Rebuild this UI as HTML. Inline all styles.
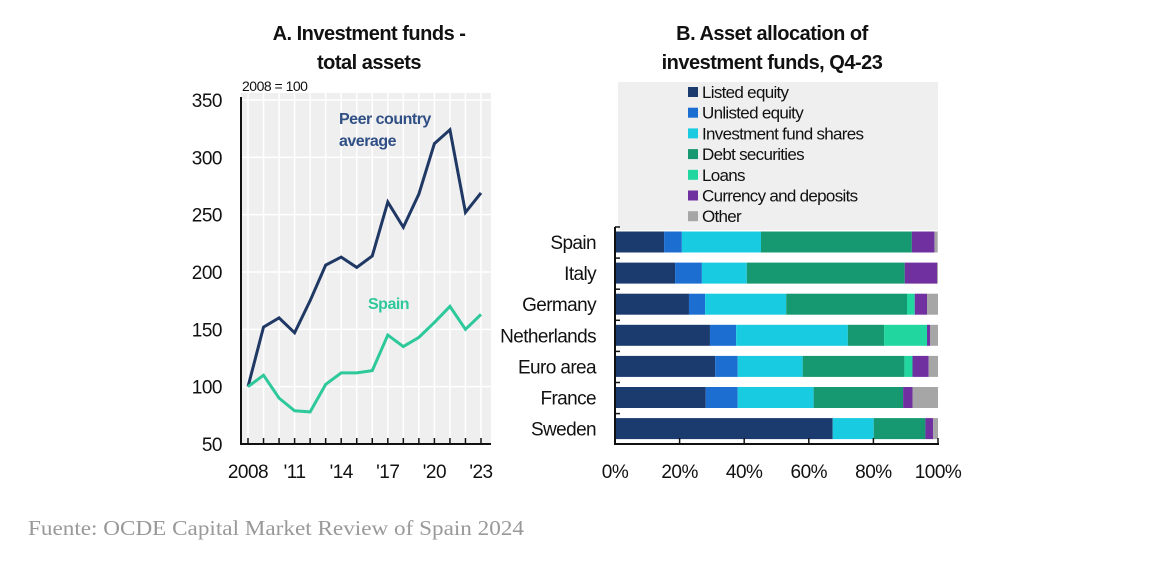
<!DOCTYPE html>
<html><head><meta charset="utf-8"><style>
body{margin:0;background:#fff;width:1163px;height:564px;overflow:hidden}
svg{display:block;font-family:"Liberation Sans",Arial,sans-serif}
</style></head><body>
<svg id="c" width="1163" height="564">
<text x="369" y="40" font-size="20" font-weight="bold" text-anchor="middle" fill="#111" letter-spacing="-0.5">A. Investment funds -</text>
<text x="369" y="69" font-size="20" font-weight="bold" text-anchor="middle" fill="#111" letter-spacing="-0.5">total assets</text>
<text x="772" y="40" font-size="20" font-weight="bold" text-anchor="middle" fill="#111" letter-spacing="-0.5">B. Asset allocation of</text>
<text x="772" y="69" font-size="20" font-weight="bold" text-anchor="middle" fill="#111" letter-spacing="-0.5">investment funds, Q4-23</text>
<text x="242" y="91" font-size="14" fill="#111" letter-spacing="-0.5">2008 = 100</text>
<g id="a"></g><g id="b"></g>
<text x="28" y="535" font-family="Liberation Serif,serif" font-size="21" fill="#999" textLength="496" lengthAdjust="spacingAndGlyphs">Fuente: OCDE Capital Market Review of Spain 2024</text>
</svg>
<script>
const years=[2008,2009,2010,2011,2012,2013,2014,2015,2016,2017,2018,2019,2020,2021,2022,2023];
const peer=[100,152,160,147,175,206,213,204,214,261,239,268,312,324,252,269];
const spain=[100,110,90,79,78,102,112,112,114,145,135,143,156,170,150,163];
const yTicks=[50,100,150,200,250,300,350];
const xLabels=[[2008,"2008"],[2011,"'11"],[2014,"'14"],[2017,"'17"],[2020,"'20"],[2023,"'23"]];
const countries=["Spain","Italy","Germany","Netherlands","Euro area","France","Sweden"];
const catNames=["Listed equity","Unlisted equity","Investment fund shares","Debt securities","Loans","Currency and deposits","Other"];
const catColors=["#1b3b6f","#1c6fd0","#19cbe0","#169870","#22d6a0","#7030a0","#a6a6a6"];
const listedEq=[15.2,18.6,22.9,29.4,31,28.1,67.4];
const unlistedEq=[5.5,8.3,5,8.1,7,9.9,0];
const fundShares=[24.5,13.9,25.1,34.6,20.1,23.5,12.7];
const debtSec=[46.7,48.9,37.4,11.2,31.5,27.7,16];
const loans=[0,0,2.4,13.3,2.5,0,0];
const currency=[7,10,3.8,1,5,2.9,2.4];
const other=[1,0.3,3.4,2.4,2.9,7.9,1.5];
const pctTicks=[0,20,40,60,80,100];
const NS="http://www.w3.org/2000/svg";
function mk(p,t,a,txt){const e=document.createElementNS(NS,t);for(const k in a)e.setAttribute(k,a[k]);if(txt!==undefined)e.textContent=txt;p.appendChild(e);return e;}
// Panel A
const A=document.getElementById('a');
const xA=y=>248+(y-2008)*(481-248)/15, yA=v=>444-(v-50)*(344/300);
mk(A,'rect',{x:241,y:93,width:250,height:351,fill:'#efefef'});
yTicks.forEach(v=>{let t=mk(A,'line',{x1:241,x2:491,y1:yA(v),y2:yA(v),stroke:'#fff','stroke-width':1.5});

let l=mk(A,'text',{x:222,y:yA(v)+7,'font-size':19,'text-anchor':'end',fill:'#111','letter-spacing':-0.5},String(v));
});
years.forEach(y=>{mk(A,'line',{x1:xA(y),x2:xA(y),y1:93,y2:444,stroke:'#fff','stroke-width':1.5});
let t=mk(A,'line',{x1:xA(y),x2:xA(y),y1:444,y2:438,stroke:'#111','stroke-width':1.5});
});
mk(A,'line',{x1:241,x2:241,y1:97,y2:445,stroke:'#111','stroke-width':2});
mk(A,'line',{x1:240,x2:491,y1:444,y2:444,stroke:'#111','stroke-width':2});
xLabels.forEach(([y,s])=>{let l=mk(A,'text',{x:xA(y),y:478,'font-size':19,'text-anchor':'middle',fill:'#111','letter-spacing':-0.5},s);
});
function line(d,c,n){let p=mk(A,'polyline',{points:d.map((v,i)=>xA(years[i])+','+yA(v)).join(' '),fill:'none',stroke:c,'stroke-width':3,'stroke-linejoin':'miter'});
}
line(peer,'#1f3864','peer-line');line(spain,'#2ec99a','spain-line');
let t1=mk(A,'text',{x:339,y:124,'font-size':16,'font-weight':'bold',fill:'#2f4f85','letter-spacing':-0.5},'Peer country');

mk(A,'text',{x:339,y:146,'font-size':16,'font-weight':'bold',fill:'#2f4f85','letter-spacing':-0.5},'average');
let t2=mk(A,'text',{x:368,y:309,'font-size':16,'font-weight':'bold',fill:'#2ec99a','letter-spacing':-0.5},'Spain');

// Panel B
const B=document.getElementById('b');
const xB=p=>615+p*3.23, yB=i=>242+i*31.1;
mk(B,'rect',{x:618,y:82,width:320,height:148,fill:'#efefef'});
catNames.forEach((n,i)=>{const y=92+i*20.7;
let s=mk(B,'rect',{x:688,y:y-5,width:10,height:10,fill:catColors[i]});

let t=mk(B,'text',{x:702,y:y+6,'font-size':17,fill:'#111','letter-spacing':-0.7},n);
});
const series=[listedEq,unlistedEq,fundShares,debtSec,loans,currency,other];
countries.forEach((c,i)=>{let acc=0;
series.forEach((s,k)=>{const v=s[i];if(v>0){let r=mk(B,'rect',{x:xB(acc),y:yB(i)-10.5,width:v*3.23,height:21,fill:catColors[k]});
}acc+=v;});
let l=mk(B,'text',{x:596,y:yB(i)+7,'font-size':19,'text-anchor':'end',fill:'#111','letter-spacing':-0.6},c);

mk(B,'line',{x1:615,x2:620,y1:yB(i)-15,y2:yB(i)-15,stroke:'#111','stroke-width':1.5});});
mk(B,'line',{x1:615,x2:615,y1:227,y2:445,stroke:'#111','stroke-width':2});
mk(B,'line',{x1:614,x2:939,y1:444,y2:444,stroke:'#111','stroke-width':2});
pctTicks.forEach(p=>{mk(B,'line',{x1:xB(p),x2:xB(p),y1:444,y2:438,stroke:'#111','stroke-width':1.5});
let l=mk(B,'text',{x:xB(p),y:478,'font-size':19,'text-anchor':'middle',fill:'#111','letter-spacing':-0.5},p+'%');
});
</script>
</body></html>
